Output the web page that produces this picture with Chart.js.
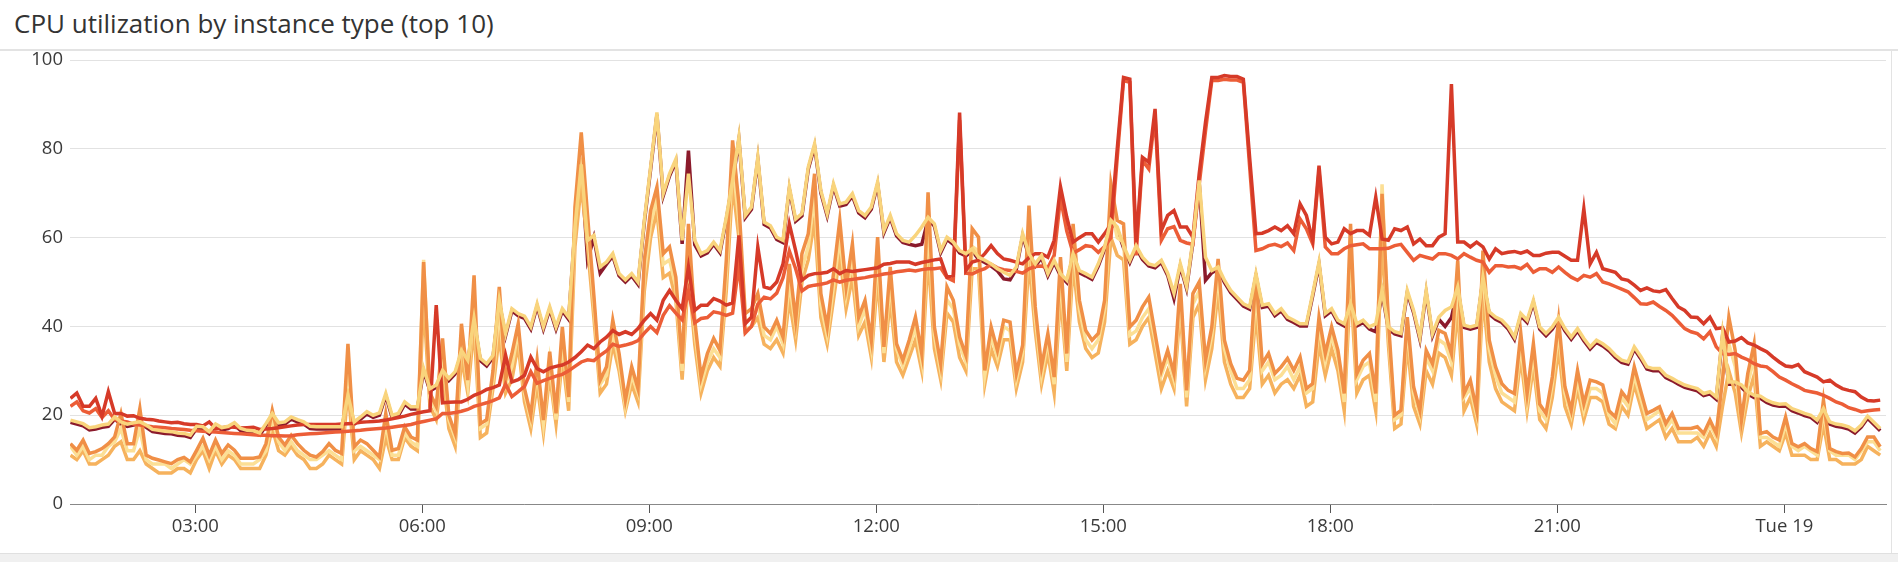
<!DOCTYPE html>
<html lang="en">
<head>
  <meta charset="UTF-8">
  <title>CPU utilization by instance type</title>
  <script src="https://cdn.jsdelivr.net/npm/chart.js"></script>
  <style>
    html, body { margin: 0; padding: 0; background: #fff; width: 1898px; height: 562px; overflow: hidden; }
    body { font-family: "Open Sans", "Noto Sans", sans-serif; position: relative; }
    #title { position: absolute; left: 14px; top: 5px; font-size: 26px; color: #333; white-space: nowrap; }
    #sep { position: absolute; left: 0; top: 49px; width: 1898px; height: 2px; background: #e3e3e3; }
    #rside { position: absolute; left: 1891px; top: 50px; width: 1px; height: 503px; background: #e3e3e3; }
    #bottom { position: absolute; left: 0; top: 553px; width: 1898px; height: 9px; background: #f0f0f0; border-top: 1px solid #e0e0e0; }
    #wrap { position: absolute; left: 0; top: 42px; width: 1890px; height: 511px; }
  </style>
</head>
<body>
  <div id="title">CPU utilization by instance type (top 10)</div>
  <div id="sep"></div>
  <div id="rside"></div>
  <div id="wrap"><canvas id="cpuChart"></canvas></div>
  <div id="bottom"></div>

  <script>
    // sample times: minutes after Monday 00:00, one point every 5 minutes
    const startMinute = 81;
    const stepMinutes = 5;
    const tickMinutes = [180, 360, 540, 720, 900, 1080, 1260, 1440];
    const tickLabels = ['03:00', '06:00', '09:00', '12:00', '15:00', '18:00', '21:00', 'Tue 19'];

    // upper group (pale yellow line and the maroon line just under it)
    const yellowVals = [18.9,18.5,18.1,17.2,17.4,17.8,18,19.6,18.5,18,18.3,18.5,17.8,16.8,16.6,16.4,16.3,16,15.9,15.5,17.5,17.4,16.3,18,17.2,17.5,18.3,17,16.6,16.5,16,18.1,20.4,18.3,18.5,19.6,19,18.5,17.5,17.4,17.4,17.4,17.4,17.4,24.5,18.5,19.6,20.8,20,20.5,24.9,20,20.4,23,21.9,21.9,30.5,26,26.8,30.1,28.3,29.8,34.6,32.4,41.8,32.8,31.6,33.5,45.9,38.4,44,42.9,42.3,39.9,45.1,39.9,44.4,39.9,44,42.1,62.4,76.5,59.4,60.5,53.4,54.5,56.4,51.9,50.5,51.9,50,63.9,75.9,88.2,69.9,74.4,77.7,59.4,74.4,59.4,56.4,57.1,59,57.1,64.6,72.9,82.6,65,66.9,78.1,63.5,62.7,60.1,59.4,71.4,64.2,65.4,75.9,81.1,70.6,65.4,72.1,67.6,68,69.9,66.1,65,66.9,72.5,61.6,65,60.9,59.4,59,60.5,62.4,64.6,63.1,57.1,60.1,59,57.1,56.4,57.5,55.6,54.9,54.1,53,52.2,51.5,53.4,60.9,56.4,54.1,56,51.9,54.9,51.9,50.4,56.4,52.6,51.9,51.1,54.1,57.9,63.9,62.4,58.2,54.9,58.2,55.6,54.1,53.7,54.9,52,47.5,54.1,49,59.4,72.9,55.6,52.6,53.4,50.4,48.1,46.6,45.1,44.4,51.9,44.8,45.1,42.9,44,42.1,41.4,40.6,40.6,47.4,54.5,42.9,44,41.4,40.6,45.1,40.6,41.4,39.9,40.6,48.1,39.9,38.8,38.4,48.1,43.6,37.6,48.1,38.4,42.1,43.6,44.4,48.9,40.3,39.9,40.3,51.1,43.3,42.1,41.4,39.9,37.6,42.9,41.4,45.9,39.9,38.4,39.9,42.1,39.5,37.6,39.5,37.3,35.4,36.9,36.1,35,33.5,32.4,32,35.4,33.3,30.9,30.5,30.5,29,28.3,27.5,26.8,26.4,26,24.9,25.3,24.1,38.4,27.5,27.5,26.8,25.3,24.5,24.3,23.4,22.8,22.5,22.6,21.5,21,20.4,20,18.9,21.5,18.5,18,17.8,17.4,16.5,17.8,19.8,18.4,17];
    const maroonVals = [18.4,18,17.6,16.7,16.9,17.3,17.5,19.1,18,17.5,17.8,18,17.3,16.3,16.1,15.9,15.8,15.5,15.4,15,17,16.9,15.8,17.5,16.7,17,17.8,16.5,16.1,16,15.5,17.6,19.9,17.8,18,19.1,18.5,18,17,16.9,16.9,16.9,16.9,16.9,24,18,19.1,20.3,19.5,20,24.4,19.5,19.9,22.5,21.4,21.4,30,25.5,26.3,29.6,27.8,29.3,34.1,31.9,41.3,32.3,31.1,33,45.4,37.9,43.5,42.4,41.8,39.4,44.6,39.4,43.9,39.4,43.5,41.6,61.9,76,55,60,52,54,55.9,51.4,50,51.4,49.5,63.4,75.4,87.7,69.4,73.9,77.2,58.6,79.6,58.4,55.9,56.6,58.5,56.6,64.1,72.4,82.1,64.5,66.4,77.6,63,62.2,59.6,58.9,70.9,63.7,64.9,75.4,80.6,70.1,64.9,71.6,67.1,67.5,69.4,65.6,64.5,66.4,72,61.1,64.5,60.4,58.9,58.5,58.2,58.5,64.1,62.6,56.6,59.6,58.5,56.6,55.9,57,55.1,54.4,53.6,52.5,50.7,50.5,52.9,60.4,55.9,53.6,55.5,51.4,54.4,51.4,49.9,55.9,52.1,51.4,50.6,53.6,57.4,63.4,61.9,57.7,54.4,57.7,55.1,53.6,53.2,54.4,51.5,46.3,53.6,48.5,58.9,72.4,50.4,52.1,52.9,49.9,47.6,46.1,44.6,43.9,51.4,44.3,44.6,42.4,43.5,41.6,40.9,40.1,40.1,46.9,54,42.4,43.5,40.9,40.1,44.6,40.1,40.9,39.4,38.8,47.6,39.4,38.3,37.9,47.6,43.1,37.1,47.6,37.9,41.6,40,42,48.4,39.8,39.4,39.8,50.6,42.8,41.6,40.9,39.4,37.1,42.4,40.9,45.4,39.4,37.9,39.4,41.6,39,37.1,39,36.8,34.9,36.4,35.6,34.5,33,31.9,31.5,34.9,32.8,30.4,30,30,28.5,27.8,27,26.3,25.9,25.5,24.4,24.8,23.6,37.9,27,27,26.3,24.8,24,23.8,22.9,22.3,22,22.1,21,20.5,19.9,19.5,18.4,21,18,17.5,17.3,16.9,16,17.3,19.3,17.9,16.5];

    // red pair (smoother lines with tall spikes)
    const redVals = [23.8,25,22,22,23.8,19.8,25.3,20.4,20.4,19.8,19.9,19.3,19.1,19,18.7,18.5,18.3,18.4,18.1,17.9,17.9,17.6,18.5,17,17.2,17.4,17.3,17.1,17.2,17.3,16.8,16.9,17,17.2,17.4,17.6,17.8,17.9,17.9,17.9,17.9,17.9,17.9,18,18.1,18.2,18.4,18.5,18.6,18.7,18.9,19.2,19.5,19.8,20.2,20.5,20.8,21,44.8,22.8,22.9,23,23,23.6,24.5,25,25.8,26.2,26.8,33.5,27.5,28,29,33.1,30.5,29.8,30.6,31,31.3,32,33,34.3,35.8,35,36.5,37.6,39.1,38.2,38.8,38.2,39.5,41.4,42.9,41.4,45.9,48.1,45.9,44,53.4,43.6,44.8,44.8,46.3,45.7,44.8,45.3,60.5,40.6,42.1,57.9,48.9,48.5,50,54.1,63.1,57.1,50.4,51.5,51.9,52,52.2,53,51.9,52.6,52.4,52.6,52.8,53,53.2,54,54.2,54.5,54.5,54.5,54,54.4,54.7,55,55.2,51.1,51.5,88.2,52.6,54.5,54.9,56.4,58.2,56.4,55.2,54.9,54.5,54.1,55.5,56.4,56.4,55.6,59.4,71.5,64.6,59,60,60.9,60.9,59,60.9,63,80,96.1,95.7,58.6,78.1,77,89,61.6,65,66.1,62.4,62.4,60.1,74.4,86,96.1,96.1,96.5,96.3,96.3,95.7,78,60.9,61,61.6,62.4,61.6,62.7,60.9,67.6,65,59.4,76.2,60.1,58.6,59,62,60.9,61.6,61.6,60.5,69.1,59.7,59.4,62,61.6,62.4,58.6,59.7,58.2,58.2,60.1,60.9,94.6,59,59,57.9,59,57.9,55.2,57.5,56.4,56.7,56.9,56.5,57,56,56,56.5,56.7,56.7,55.8,54.9,54.9,66.5,54.1,56.7,53,52.6,52.2,50.7,50.4,49.3,48.1,48.7,48,47.8,48.3,46.3,44.4,43.6,42.1,42,40.6,42.1,39.5,39.7,36.5,36.7,37.5,36.3,35.8,35,34.3,33.1,32,31.1,30.9,31.4,29.8,29.2,28.6,27.5,27.9,26.8,26,25.6,25.3,24.1,23.3,23.2,23.4];
    const vermilionVals = [22,23,21,20.5,21.5,19.5,21,19,18.7,18.5,18,17.8,17.6,17.4,17.3,17.2,17,16.9,16.8,16.6,16.5,16.4,16.3,16.2,16.1,16,15.9,15.8,15.7,15.6,15.5,15.5,15.4,15.4,15.3,15.4,15.6,15.7,15.8,15.9,16,16.1,16.2,16.3,16.4,16.5,16.6,16.8,16.9,17,17.1,17.3,17.5,17.7,17.9,18.3,18.6,18.9,19.2,20.4,20.4,20.6,20.9,21.3,22,22.4,22.8,23.3,23.9,27,24.2,25.3,26.5,29.8,27.2,27.8,28.3,28.8,29.2,30,31,32,32.5,32.3,33.5,34.5,36,35.5,35.8,36.2,36.8,38.5,40,38.6,42.5,44.7,43,41.5,48,40.8,41.8,42,43.3,43,42.5,43,54,38.5,40,45,46.6,46.2,47.5,51,57,53,48,49,49.3,49.5,49.8,50.5,50,50.4,50.6,50.8,51,51.3,51.5,51.8,52,52.3,52.5,52.7,52.5,52.8,53,53,53.2,51,50.3,86.5,52,51.8,52.5,53,54,53.2,52.8,52.6,52.4,52,53,53.5,53.6,53.2,56,69,61.5,56.5,57.3,58.2,58,56.7,58,60,78,95.4,95,56,77.4,75.5,87.5,59.4,62,62.5,59.4,58.8,58.5,72,84,95.4,95.4,95.7,95.5,95.5,95,76,57.1,57.5,58.2,58.5,58,58.8,57.1,64.2,62,58.6,75,57.9,56.4,56.4,57.5,58.2,58.4,58.6,57.5,57.5,57.5,57.6,58.2,58.5,56.7,54.9,56,55.6,55.2,56.4,56.4,56,55.2,56.4,55.6,54.9,54.5,52.2,53.7,53.7,53.4,53.5,53,54,52.2,53,53,52.2,53.4,52.2,51.1,50.4,51.5,51.1,51.9,50,49.6,49,48.4,47.8,46.5,45.1,45,45.5,44.5,43.6,42.5,41,39.5,38.8,38.4,37.2,38.8,35.4,33.9,33.7,33.9,33.1,32.5,31.6,31.1,30.9,29.8,28.6,27.9,27.1,26.4,25.6,25.3,25,24.5,23.8,23,22.5,21.7,21.3,20.8,21,21.2,21.3];

    // lower group (orange, pale yellow and light orange lines)
    const orangeVals = [13.6,12.1,14.4,11.4,11.8,12.5,13.6,15.1,20.4,13.6,13.6,21.5,11,10.3,9.9,9.5,9.1,10,10.5,9.5,12.1,14.8,11,14.4,11.4,13.3,12.1,10.3,10.3,10.3,10.6,13.6,21.1,15.1,13.3,15.5,13.6,12.1,11,10.6,11.8,13.6,12.1,11.4,36.1,12.9,14.4,13.6,12.1,10.6,20.4,12.1,12.5,17.4,15.1,14.4,54.5,25,22,37.3,20,15.9,40.6,27.9,51.5,18.1,19,30,48.9,28,33.9,40.6,26,20,32.4,18.9,34.3,20.4,39.9,24.1,66.9,83.7,65,47,27.9,30.9,41.4,33.9,23.4,30.9,26,54.9,66.1,71.4,56.4,57.9,51.1,31.6,63.1,41.4,28.6,33.9,37.3,34.6,54.9,81.9,67.6,42.9,44,47.4,39.9,38.4,41.4,37.6,54.1,41.4,56.4,60.9,74.4,47.4,39.9,51.9,63.9,48.9,58.6,42.1,45.9,36.9,60.1,35.4,53.4,36.1,32.4,36.9,42.1,33.9,70.2,39.9,31.6,48.9,45.9,37.6,33.5,62,60.1,30.1,39.9,34.6,41.4,41,29.4,35.8,67.2,44.4,30.9,38.4,28.6,55.6,33.9,63.1,45.9,39.1,36.9,38.4,45.9,72.1,63.9,63.1,39.9,41.4,44.4,46.6,38.4,30.1,34.6,29.4,49.6,25.6,47.4,50,32.4,39.9,55.2,36.9,31.6,28.3,27.9,30.1,51.9,31.6,33.9,29.4,30.9,32.8,30.1,33.1,26,27.1,42.1,33.9,39.9,34.6,24.9,63.1,29.4,32.4,33.9,24.9,69.9,41.4,20,21.1,42.1,26.4,21.1,34.6,31.6,39.1,38.4,33.9,54.9,24.9,27.9,21.1,57.1,36.9,30.9,27.1,25.6,24.9,38.4,24.9,36.1,22.5,20.4,28.6,41.4,26.4,21.1,30.1,22.6,27.9,27.5,26.8,21,19.6,25.3,23.4,30.9,25.6,20.4,21.1,21.9,18.1,20.4,17,17,17,17.4,15.9,18.9,15.9,28,42.1,34.6,18.9,29.4,36.1,15.9,16.3,15.1,14.4,19.6,13.6,12.9,13.6,12.5,11.8,23.4,12.5,11.8,11.4,11.5,10.6,12.5,15.1,15.1,12.9];
    const paleVals = [13,11,13,10,11,11,13,14,17,12,12,17,10,9,9,9,8,9,10,9,11,13,10,13,10,12,11,9,9,9,10,12,19,14,12,14,12,11,10,10,11,12,11,10,33,12,13,12,11,10,18,11,11,16,14,13,55,24,21,35,19,15,38,27,46,17,18,28,44,27,31,39,25,19,30,18,32,19,37,23,63,78,62,45,27,29,39,32,22,29,25,52,63,69,54,55,49,30,57,39,27,32,35,33,52,77,64,41,42,45,38,37,40,36,50,40,53,58,70,45,38,49,60,47,55,40,44,35,56,34,50,35,31,35,40,32,64,38,30,46,44,36,32,58,57,29,38,33,40,39,28,34,62,42,29,37,27,52,32,59,44,37,35,37,44,67,60,59,38,39,42,44,37,29,33,28,47,24,45,48,31,38,52,35,30,26,26,28,48,30,32,28,29,31,28,31,25,26,40,32,38,33,23,58,28,31,32,23,72,39,19,20,40,25,20,33,30,37,36,32,50,24,26,20,53,35,29,25,24,23,36,23,34,21,19,27,39,25,20,28,21,26,26,25,20,18,24,22,29,24,19,20,21,17,19,16,16,16,16,15,18,15,30,36,31,18,27,33,15,15,14,13,18,13,12,13,12,11,21,12,11,11,11,10,12,14,14,12];
    const lightOrangeVals = [11,10,12,9,9,10,11,13,14,10,10,12,9,8,7,7,7,8,8,7,10,12,8,12,9,11,10,8,8,8,8,11,17,12,11,13,11,10,8,8,9,11,10,9,26,10,12,11,10,8,15,10,10,15,13,12,46,22,19,30,17,13,33,25,40,15,16,26,38,25,28,36,23,17,27,16,29,18,33,21,58,72,58,42,25,27,36,30,21,27,23,48,60,66,51,52,46,28,52,36,25,30,33,31,48,72,60,39,40,42,36,35,37,34,46,37,50,55,64,42,36,46,56,44,51,38,41,33,51,32,46,32,29,33,37,30,56,35,28,43,41,33,30,53,53,27,35,31,37,37,26,32,55,39,27,34,25,47,30,54,41,35,33,34,41,60,56,55,36,37,40,42,34,26,30,26,44,22,42,45,28,35,48,32,27,24,24,26,43,27,29,25,27,28,26,29,22,23,36,29,35,30,21,50,25,28,29,21,60,36,17,18,36,22,18,30,27,34,33,29,44,21,24,18,47,32,26,23,22,21,33,21,31,19,17,24,35,22,18,26,19,24,24,23,18,17,22,20,27,22,17,18,19,15,17,14,14,14,15,13,16,13,22,30,25,16,24,29,13,14,13,12,16,11,11,11,10,10,18,10,10,9,9,9,10,13,12,11];

    // first entry is drawn on top
    const seriesList = [
      { name: 'yellow', values: yellowVals, color: '#f9d47c' },
      { name: 'red', values: redVals, color: '#d63a28' },
      { name: 'vermilion', values: vermilionVals, color: '#ec5d37' },
      { name: 'orange', values: orangeVals, color: '#f08f46' },
      { name: 'pale', values: paleVals, color: '#fcdf95' },
      { name: 'lightOrange', values: lightOrangeVals, color: '#f6b25d' },
      { name: 'maroon', values: maroonVals, color: '#8b1a2b' }
    ];

    const datasets = seriesList.map(s => ({
      label: s.name,
      data: s.values.map((v, i) => ({ x: startMinute + i * stepMinutes, y: v })),
      borderColor: s.color,
      backgroundColor: s.color,
      borderWidth: 3.5,
      borderJoinStyle: 'miter',
      pointRadius: 0,
      tension: 0,
      fill: false
    }));

    const tickFont = { family: '"Open Sans", "Noto Sans", sans-serif', size: 18.5 };

    const ctx = document.getElementById('cpuChart').getContext('2d');
    const cpuChart = new Chart(ctx, {
      type: 'line',
      data: { datasets: datasets },
      options: {
        responsive: true,
        maintainAspectRatio: false,
        animation: false,
        layout: { padding: { top: 0, right: 4, bottom: 0, left: 0 } },
        plugins: {
          legend: { display: false },
          tooltip: { enabled: false }
        },
        scales: {
          x: {
            type: 'linear',
            min: 80.6,
            max: 1520.6,
            afterBuildTicks: function (scale) {
              scale.ticks = tickMinutes.map(v => ({ value: v }));
            },
            afterFit: function (scale) { scale.height = 49; },
            ticks: {
              autoSkip: false,
              maxRotation: 0,
              padding: 3,
              color: '#3a3a3a',
              font: tickFont,
              callback: function (value) {
                const idx = tickMinutes.indexOf(value);
                return idx >= 0 ? tickLabels[idx] : '';
              }
            },
            grid: {
              drawOnChartArea: false,
              drawTicks: true,
              tickLength: 9,
              color: '#555'
            },
            border: { display: true, color: '#888', width: 1 }
          },
          y: {
            min: 0,
            max: 100,
            afterFit: function (scale) { scale.width = 70; },
            ticks: {
              stepSize: 20,
              padding: 7,
              color: '#3a3a3a',
              font: tickFont
            },
            grid: {
              color: '#e2e2e2',
              drawTicks: false
            },
            border: { display: false }
          }
        }
      }
    });
  </script>
</body>
</html>
